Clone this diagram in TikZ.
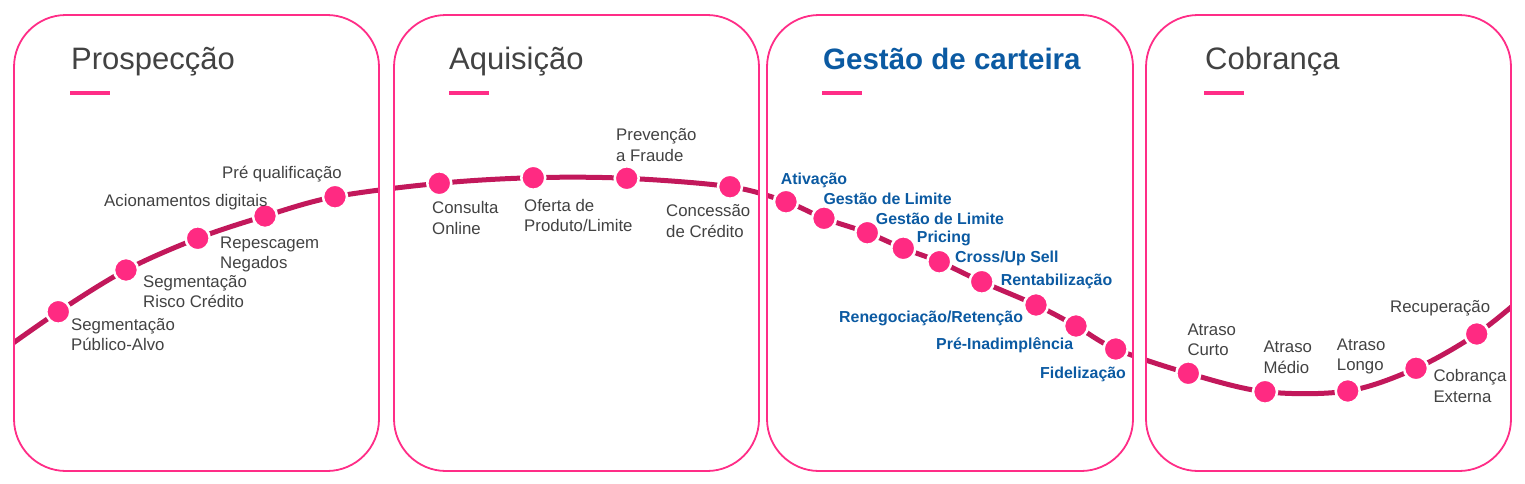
\documentclass[tikz,border=0pt]{standalone}
\usepackage{fontspec}
\setmainfont{Liberation Sans}
\usepackage{tikz}

\definecolor{boxpink}{HTML}{FF2D87}
\definecolor{trailred}{HTML}{C2185B}
\definecolor{dotpink}{HTML}{FF2A82}
\definecolor{textgrey}{HTML}{424242}
\definecolor{stageblue}{HTML}{0B5AA2}

\begin{document}
\begin{tikzpicture}[
  x=1pt, y=-1pt,
  stagebox/.style={draw=boxpink, line width=1.8pt, rounded corners=52pt},
  trail/.style={draw=trailred, line width=5pt},
  dot/.style={circle, fill=dotpink, draw=white, line width=2.5pt, minimum size=24pt, inner sep=0pt},
  accent/.style={draw=boxpink, line width=3.5pt},
  title/.style={anchor=base west, inner sep=0pt, text=textgrey, font=\fontsize{31}{36}\selectfont},
  lbl/.style={anchor=base west, inner sep=0pt, align=left, text=textgrey, font=\fontsize{16.8}{20.5}\selectfont},
  blbl/.style={anchor=base west, inner sep=0pt, text=stageblue, font=\bfseries\fontsize{15.9}{19}\selectfont}
]
\useasboundingbox (0,0) rectangle (1525,483);

% points of the trail
\coordinate (c0) at (2,351);
\foreach \n/\x/\y in {1/58.3/311.7, 2/126/270, 3/197.7/238.3, 4/265/216, 5/335/196.7,
    6/439.3/183.3, 7/533.3/177.7, 8/626.7/178.3, 9/730/186.7,
    10/786/201.7, 11/824/218.3, 12/867.3/232.7, 13/903.3/248.3, 14/939.3/261.7,
    15/981.7/281.7, 16/1036/305, 17/1076/326, 18/1115.7/349,
    19/1188.3/373.3, 20/1265/391.7, 21/1347.7/391, 22/1416/368.3, 23/1476.7/334}
  \coordinate (c\n) at (\x,\y);
\coordinate (c24) at (1523,297);

% trail, seen only inside the stages
\foreach \bx in {14,394,767,1146} {
  \begin{scope}
    \clip[rounded corners=52pt] (\bx,15) rectangle ++(365,456);
    \draw[trail] plot[smooth, tension=0.55] coordinates {(c0) (c1) (c2) (c3) (c4) (c5)
      (c6) (c7) (c8) (c9) (c10) (c11) (c12) (c13) (c14) (c15) (c16) (c17) (c18)
      (c19) (c20) (c21) (c22) (c23) (c24)};
  \end{scope}
}

% stages
\draw[stagebox] (14,15) rectangle ++(365,456);
\draw[stagebox] (394,15) rectangle ++(365,456);
\draw[stagebox] (767,15) rectangle ++(366,456);
\draw[stagebox] (1146,15) rectangle ++(365,456);

\node[title] (t1) at (71,69.5) {Prospecção};
\node[title] (t2) at (449,69.5) {Aquisição};
\node[title, text=stageblue, font=\fontsize{29.5}{34}\selectfont\bfseries] (t3) at (823,69.5) {Gestão de carteira};
\node[title] (t4) at (1205,69.5) {Cobrança};
\draw[accent] (70,93) -- (110,93);
\draw[accent] (449,93) -- (489,93);
\draw[accent] (822,93) -- (862,93);
\draw[accent] (1204,93) -- (1244,93);

% dots
\foreach \n in {1,...,23}
  \node[dot] (p\n) at (c\n) {};

% Prospecção (two-line labels sit on the baseline of their last line)
\node[lbl] (l1) at (71,350.5) {Segmentação\\Público-Alvo};
\node[lbl] (l2) at (143,307.5) {Segmentação\\Risco Crédito};
\node[lbl] (l3) at (220,268.5) {Repescagem\\Negados};
\node[lbl] (l4) at (104,206) {Acionamentos digitais};
\node[lbl] (l5) at (222,178) {Pré qualificação};
% Aquisição
\node[lbl] (l6) at (432,234) {Consulta\\Online};
\node[lbl] (l7) at (524,231.5) {Oferta de\\Produto/Limite};
\node[lbl] (l8) at (616,161) {Prevenção\\a Fraude};
\node[lbl] (l9) at (666,237.2) {Concessão\\de Crédito};
% Gestão de carteira
\node[blbl] (l10) at (780.7,184.3) {Ativação};
\node[blbl] (l11) at (823.3,204) {Gestão de Limite};
\node[blbl] (l12) at (875.7,224) {Gestão de Limite};
\node[blbl] (l13) at (916.7,242.7) {Pricing};
\node[blbl] (l14) at (955,262.7) {Cross/Up Sell};
\node[blbl] (l15) at (1000.7,285) {Rentabilização};
\node[blbl] (l16) at (839,322.3) {Renegociação/Retenção};
\node[blbl] (l17) at (936,349.3) {Pré-Inadimplência};
\node[blbl] (l18) at (1040,378.3) {Fidelização};
% Cobrança
\node[lbl] (l19) at (1187.3,355.5) {Atraso\\Curto};
\node[lbl] (l20) at (1263.3,373.2) {Atraso\\Médio};
\node[lbl] (l21) at (1336.7,370.5) {Atraso\\Longo};
\node[lbl] (l22) at (1433.3,402.2) {Cobrança\\Externa};
\node[lbl] (l23) at (1390,312.7) {Recuperação};
\end{tikzpicture}
\end{document}
